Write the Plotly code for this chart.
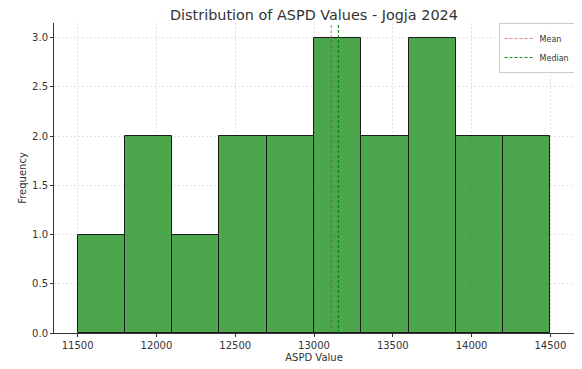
import plotly.graph_objects as go

bin_starts = [11500, 11800, 12100, 12400, 12700, 13000, 13300, 13600, 13900, 14200]
bin_width = 300
counts = [1, 2, 1, 2, 2, 3, 2, 3, 2, 2]
mean_val = 13110
median_val = 13155
x_ticks = [11500, 12000, 12500, 13000, 13500, 14000, 14500]
y_ticks = [0.0, 0.5, 1.0, 1.5, 2.0, 2.5, 3.0]

centers = [s + bin_width / 2 for s in bin_starts]

fig = go.Figure()
fig.add_trace(go.Bar(
    x=centers, y=counts, width=[bin_width] * len(counts),
    marker=dict(color="rgba(0,128,0,0.7)", line=dict(color="#1a1a1a", width=1)),
    showlegend=False, hoverinfo="skip",
))
fig.add_trace(go.Scatter(
    x=[mean_val, mean_val], y=[0, 3.15], mode="lines", name="Mean",
    line=dict(color="rgba(214,39,40,0.55)", dash="3px,2px", width=1.2),
))
fig.add_trace(go.Scatter(
    x=[median_val, median_val], y=[0, 3.15], mode="lines", name="Median",
    line=dict(color="rgba(0,128,0,0.9)", dash="3px,2px", width=1.2),
))

font = "DejaVu Sans"
grid = "rgba(200,200,200,0.55)"
fig.update_layout(
    width=574, height=361,
    margin=dict(l=46, r=8, t=15, b=36, autoexpand=False),
    paper_bgcolor="white", plot_bgcolor="white",
    font=dict(family=font, size=10, color="#333333"),
    title=dict(text="Distribution of ASPD Values - Jogja 2024", x=0.533, xanchor="center",
               y=1.0, yanchor="top", pad=dict(t=2), font=dict(size=14.4, color="#333333")),
    bargap=0,
    legend=dict(x=1.003, y=1.0, xanchor="right", yanchor="top",
                bgcolor="rgba(255,255,255,0.8)", bordercolor="#cccccc", borderwidth=1,
                font=dict(size=8), itemwidth=30, tracegroupgap=0),
    xaxis=dict(range=[11350, 14650], tickvals=x_ticks, ticktext=[str(v) for v in x_ticks],
               showgrid=True, gridcolor=grid, griddash="2px,2px", gridwidth=0.6,
               showline=True, linecolor="#333333", linewidth=1, ticks="outside", ticklen=3,
               tickcolor="#333333", zeroline=False, layer="above traces", automargin=False,
               title=dict(text="ASPD Value", standoff=3, font=dict(size=10))),
    yaxis=dict(range=[0, 3.15], tickvals=y_ticks, ticktext=[f"{v:.1f}" for v in y_ticks],
               showgrid=True, gridcolor=grid, griddash="2px,2px", gridwidth=0.6,
               showline=True, linecolor="#333333", linewidth=1, ticks="outside", ticklen=3,
               tickcolor="#333333", zeroline=False, layer="above traces", automargin=False,
               title=dict(text="Frequency", standoff=3, font=dict(size=10))),
)

fig.write_html("out.html")
